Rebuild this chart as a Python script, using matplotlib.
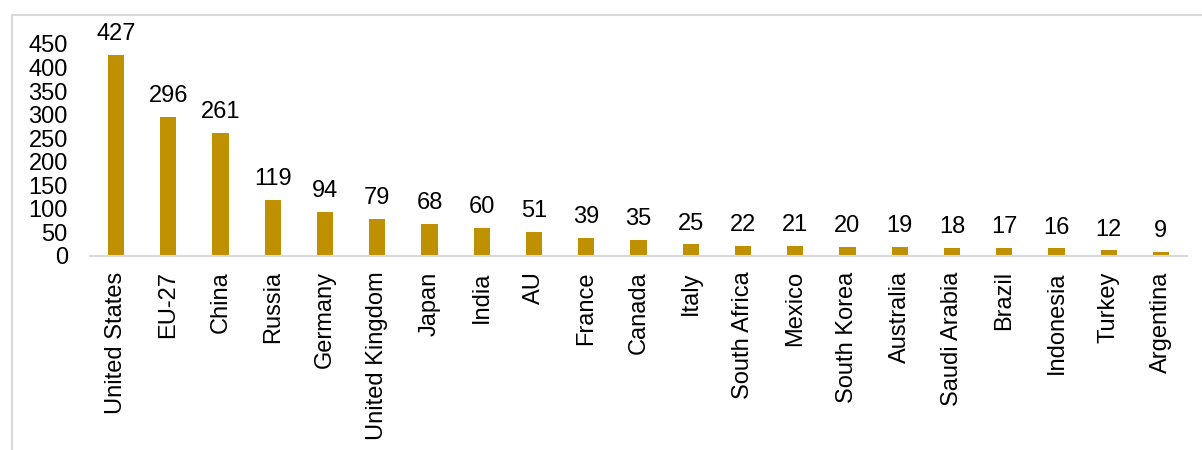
import matplotlib
matplotlib.use("Agg")
import matplotlib.pyplot as plt
from matplotlib.lines import Line2D

categories = ["United States", "EU-27", "China", "Russia", "Germany", "United Kingdom",
              "Japan", "India", "AU", "France", "Canada", "Italy", "South Africa", "Mexico",
              "South Korea", "Australia", "Saudi Arabia", "Brazil", "Indonesia", "Turkey",
              "Argentina"]
values = [427, 296, 261, 119, 94, 79, 68, 60, 51, 39, 35, 25, 22, 21, 20, 19, 18, 17, 16, 12, 9]
yticks = [0, 50, 100, 150, 200, 250, 300, 350, 400, 450]

plt.rcParams['font.family'] = ['Liberation Sans', 'DejaVu Sans']

W, H = 1202, 450
fig = plt.figure(figsize=(W / 100, H / 100), dpi=100)
ax = fig.add_axes([90 / W, 1 - 256 / H, (1187 - 90) / W, (256 - 44) / H])

x = list(range(len(categories)))
bars = ax.bar(x, values, width=0.31, color="#BF9000")
for xi, v in zip(x, values):
    ax.annotate(str(v), (xi, v), xytext=(0, 7), textcoords="offset points",
                ha="center", va="bottom", fontsize=17, color="#000000",
                annotation_clip=False)

ax.set_xlim(-0.5, len(categories) - 0.5)
ax.set_ylim(0, 450)
ax.set_yticks(yticks)
ax.set_yticklabels([str(t) for t in yticks], fontsize=17)
ax.set_xticks(x)
ax.set_xticklabels(categories, rotation=90, fontsize=17)
ax.tick_params(axis="both", length=0)
ax.tick_params(axis="y", pad=16)
ax.tick_params(axis="x", pad=11)
for s in ["top", "right", "left"]:
    ax.spines[s].set_visible(False)
ax.spines["bottom"].set_color("#D9D9D9")
ax.spines["bottom"].set_linewidth(1.5)

# outer frame lines (top and left)
fig.add_artist(Line2D([12 / W, 1], [1 - 15 / H, 1 - 15 / H], transform=fig.transFigure,
                      color="#D9D9D9", lw=1.5))
fig.add_artist(Line2D([12 / W, 12 / W], [0, 1 - 15 / H], transform=fig.transFigure,
                      color="#D9D9D9", lw=1.5))

fig.savefig("out.png", dpi=100, facecolor="white")
